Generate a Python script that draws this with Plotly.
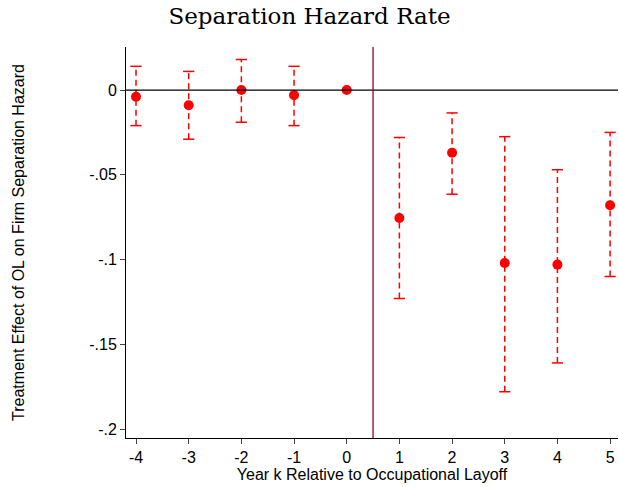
import plotly.graph_objects as go

years = [-4, -3, -2, -1, 0, 1, 2, 3, 4, 5]
year_labels = ["-4", "-3", "-2", "-1", "0", "1", "2", "3", "4", "5"]
coef = [-0.004, -0.009, 0.0, -0.003, 0.0, -0.0755, -0.037, -0.102, -0.103, -0.068]
ci_hi = [0.014, 0.011, 0.018, 0.014, None, -0.028, -0.0135, -0.0275, -0.047, -0.025]
ci_lo = [-0.021, -0.029, -0.019, -0.021, None, -0.123, -0.0615, -0.178, -0.161, -0.110]

red = "#ff0000"

# dashed CI whiskers
wx, wy, cx, cy = [], [], [], []
for x, lo, hi in zip(years, ci_lo, ci_hi):
    if lo is None:
        continue
    wx += [x, x, None]
    wy += [lo, hi, None]
    cx += [x, x]
    cy += [lo, hi]

fig = go.Figure()
fig.add_trace(go.Scatter(x=wx, y=wy, mode="lines",
                         line=dict(color=red, width=1.5, dash="6px,4px"),
                         hoverinfo="skip"))
fig.add_trace(go.Scatter(x=cx, y=cy, mode="markers",
                         marker=dict(symbol="line-ew", size=8,
                                     line=dict(color=red, width=1.5))))
fig.add_trace(go.Scatter(x=years, y=coef, mode="markers",
                         marker=dict(color=red, size=10)))

fig.add_hline(y=0, line=dict(color="black", width=1.3))
fig.add_vline(x=0.5, line=dict(color="#990033", width=1.3))

fig.update_layout(
    width=619, height=487,
    paper_bgcolor="white", plot_bgcolor="white",
    showlegend=False,
    margin=dict(l=126, r=1, t=47, b=49),
    title=dict(text="Separation Hazard Rate", x=0.5, xanchor="center", y=0.983,
               font=dict(family="DejaVu Serif", size=23, color="black")),
    font=dict(family="Liberation Sans", size=16, color="black"),
)
fig.update_xaxes(range=[-4.19, 5.15], tickvals=years, ticktext=year_labels,
                 showgrid=False, showline=True, linecolor="black",
                 ticks="outside", ticklen=5, zeroline=False, automargin=False,
                 title=dict(text="Year k Relative to Occupational Layoff",
                            standoff=0, font=dict(size=16)))
fig.update_yaxes(range=[-0.2053, 0.0254],
                 tickvals=[0, -0.05, -0.1, -0.15, -0.2],
                 ticktext=["0", "-.05", "-.1", "-.15", "-.2"],
                 showgrid=False, showline=True, linecolor="black",
                 ticks="outside", ticklen=5, zeroline=False, automargin=False,
                 title=dict(text="Treatment Effect of OL on Firm Separation Hazard",
                            standoff=60, font=dict(size=16)))

fig.write_html("out.html", config={"displayModeBar": False},
               post_script="document.body.style.margin='0';document.body.style.overflow='hidden';")
